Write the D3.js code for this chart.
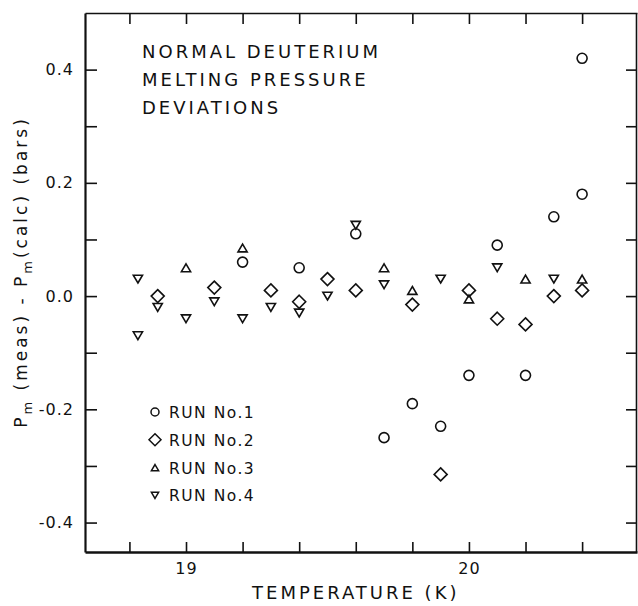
<!DOCTYPE html>
<html>
<head>
<meta charset="utf-8">
<script src="https://cdn.jsdelivr.net/npm/d3@7"></script>
<style>
	body { margin: 0; background: #fff; }
	svg { display: block; }
	text { font-family: "DejaVu Sans", sans-serif; fill: #111; }
</style>
</head>
<body>
<div id="chart"></div>
<script>

// run data: temperature (K) and deviation (bars)
var run1_temp = [19.2, 19.4, 19.6, 19.7, 19.8, 19.9, 20.0, 20.1, 20.2, 20.3, 20.4, 20.4]
var run1_dev = [0.06, 0.05, 0.11, -0.25, -0.19, -0.23, -0.14, 0.09, -0.14, 0.14, 0.18, 0.42]

var run2_temp = [18.9, 19.1, 19.3, 19.4, 19.5, 19.6, 19.8, 19.9, 20.0, 20.1, 20.2, 20.3, 20.4]
var run2_dev = [0.0, 0.015, 0.01, -0.01, 0.03, 0.01, -0.015, -0.315, 0.01, -0.04, -0.05, 0.0, 0.01]

var run3_temp = [19.0, 19.2, 19.7, 19.8, 20.0, 20.2, 20.4]
var run3_dev = [0.05, 0.085, 0.05, 0.01, -0.005, 0.03, 0.03]

var run4_temp = [18.83, 18.83, 18.9, 19.0, 19.1, 19.2, 19.3, 19.4, 19.5, 19.6, 19.7, 19.9, 20.1, 20.3]
var run4_dev = [0.03, -0.07, -0.02, -0.04, -0.01, -0.04, -0.02, -0.03, 0.0, 0.125, 0.02, 0.03, 0.05, 0.03]

var run_labels = ['RUN No.1', 'RUN No.2', 'RUN No.3', 'RUN No.4']
var run_shapes = ['circle', 'diamond', 'up', 'down']

var x_ticks = [18.8, 19.0, 19.2, 19.4, 19.6, 19.8, 20.0, 20.2, 20.4]
var x_labels = [19, 20]
var y_ticks = [-0.4, -0.3, -0.2, -0.1, 0.0, 0.1, 0.2, 0.3, 0.4]
var y_labels = [-0.4, -0.2, 0.0, 0.2, 0.4]

var title_lines = ['NORMAL DEUTERIUM', 'MELTING PRESSURE', 'DEVIATIONS']

var width = 638,
	height = 606,
	margin = {top: 13, right: 1, bottom: 54, left: 85}

var svg = d3.select('#chart')
	.append('svg')
	.attr('width', width)
	.attr('height', height)

var x = d3.scaleLinear()
	.domain([18.643, 20.594])
	.range([margin.left, width - margin.right])

var y = d3.scaleLinear()
	.domain([-0.452, 0.5])
	.range([height - margin.bottom, margin.top])

var fmt = d => d3.format('.1f')(d).replace('\u2212', '-')

// marker paths centred on 0,0; r is half the marker width
var shape_path = (shape, r) => {
	if (shape === 'circle') {
		var p = d3.path()
		p.arc(0, 0, r, 0, 2 * Math.PI)
		return p.toString()
	}
	if (shape === 'diamond') {
		return 'M0,' + (-r) + 'L' + r + ',0L0,' + r + 'L' + (-r) + ',0Z'
	}
	var t = r * 0.85
	if (shape === 'up') {
		return 'M0,' + (-t) + 'L' + r + ',' + t + 'L' + (-r) + ',' + t + 'Z'
	}
	return 'M0,' + t + 'L' + r + ',' + (-t) + 'L' + (-r) + ',' + (-t) + 'Z'
}

var point_size = {circle: 5, diamond: 6.5, up: 4.6, down: 4.6}
var legend_size = {circle: 4, diamond: 6, up: 3.6, down: 3.6}

var style_axis = g => {
	g.attr('font-family', null).attr('font-size', null)
	g.selectAll('.tick line').attr('stroke', '#111').attr('stroke-width', 1.6)
	g.selectAll('.tick text')
		.attr('fill', '#111')
		.style('font-size', '16px')
		.style('letter-spacing', '1px')
}

// axes: ticks point inwards on every side
var left_axis = svg.append('g')
	.attr('transform', 'translate(' + margin.left + ',0)')
	.call(d3.axisLeft(y)
		.tickValues(y_ticks)
		.tickSizeInner(-12)
		.tickSizeOuter(0)
		.tickPadding(11)
		.tickFormat(d => y_labels.some(v => Math.abs(v - d) < 1e-6) ? fmt(d) : ''))
	.call(style_axis)
left_axis.select('.domain').attr('stroke', '#111').attr('stroke-width', 2.2)

var right_axis = svg.append('g')
	.attr('transform', 'translate(' + (width - margin.right - 1) + ',0)')
	.call(d3.axisRight(y)
		.tickValues(y_ticks)
		.tickSizeInner(-10)
		.tickSizeOuter(0)
		.tickFormat(''))
	.call(style_axis)
right_axis.select('.domain').attr('stroke', '#111').attr('stroke-width', 1.6)

var bottom_axis = svg.append('g')
	.attr('transform', 'translate(0,' + (height - margin.bottom) + ')')
	.call(d3.axisBottom(x)
		.tickValues(x_ticks)
		.tickSizeInner(-10)
		.tickSizeOuter(0)
		.tickPadding(11)
		.tickFormat(d => x_labels.some(v => Math.abs(v - d) < 1e-6) ? d3.format('d')(d) : ''))
	.call(style_axis)
bottom_axis.select('.domain').attr('stroke', '#111').attr('stroke-width', 2.6)

var top_axis = svg.append('g')
	.attr('transform', 'translate(0,' + margin.top + ')')
	.call(d3.axisTop(x)
		.tickValues(x_ticks)
		.tickSizeInner(-11)
		.tickSizeOuter(0)
		.tickFormat(''))
	.call(style_axis)
top_axis.select('.domain').attr('stroke', '#111').attr('stroke-width', 1.6)

// axis titles
svg.append('text')
	.attr('x', x(19.6))
	.attr('y', 599)
	.attr('text-anchor', 'middle')
	.style('font-size', '18px')
	.style('letter-spacing', '3px')
	.text('TEMPERATURE (K)')

var y_title = svg.append('text')
	.attr('transform', 'translate(27,' + 272 + ') rotate(-90)')
	.attr('text-anchor', 'middle')
	.style('font-size', '17px')
	.style('letter-spacing', '3px')

y_title.append('tspan').text('P')
y_title.append('tspan').attr('dy', 5).style('font-size', '13px').text('m')
y_title.append('tspan').attr('dy', -5).text(' (meas) - P')
y_title.append('tspan').attr('dy', 5).style('font-size', '13px').text('m')
y_title.append('tspan').attr('dy', -5).text('(calc) (bars)')

// title block
svg.append('g')
	.selectAll('text')
	.data(title_lines)
	.join('text')
		.attr('x', 142)
		.attr('y', (d, i) => 58 + i * 28)
		.style('font-size', '18px')
		.style('letter-spacing', '3px')
		.text(d => d)

// points
var runs = [
	{temp: run1_temp, dev: run1_dev, shape: run_shapes[0]},
	{temp: run2_temp, dev: run2_dev, shape: run_shapes[1]},
	{temp: run3_temp, dev: run3_dev, shape: run_shapes[2]},
	{temp: run4_temp, dev: run4_dev, shape: run_shapes[3]}
]

runs.forEach(run => {
	svg.append('g')
		.selectAll('path')
		.data(run.temp.map((t, i) => [t, run.dev[i]]))
		.join('path')
			.attr('transform', d => 'translate(' + x(d[0]) + ',' + y(d[1]) + ')')
			.attr('d', shape_path(run.shape, point_size[run.shape]))
			.attr('fill', 'none')
			.attr('stroke', '#111')
			.attr('stroke-width', 1.6)
})

// legend
var legend = svg.append('g')
	.selectAll('g')
	.data(run_labels)
	.join('g')
		.attr('transform', (d, i) => 'translate(155,' + (412 + i * 27.8) + ')')

legend.append('path')
	.attr('d', (d, i) => shape_path(run_shapes[i], legend_size[run_shapes[i]]))
	.attr('fill', 'none')
	.attr('stroke', '#111')
	.attr('stroke-width', 1.5)

legend.append('text')
	.attr('x', 14)
	.attr('y', 6)
	.style('font-size', '15.5px')
	.style('letter-spacing', '1.5px')
	.text(d => d)

</script>
</body>
</html>
